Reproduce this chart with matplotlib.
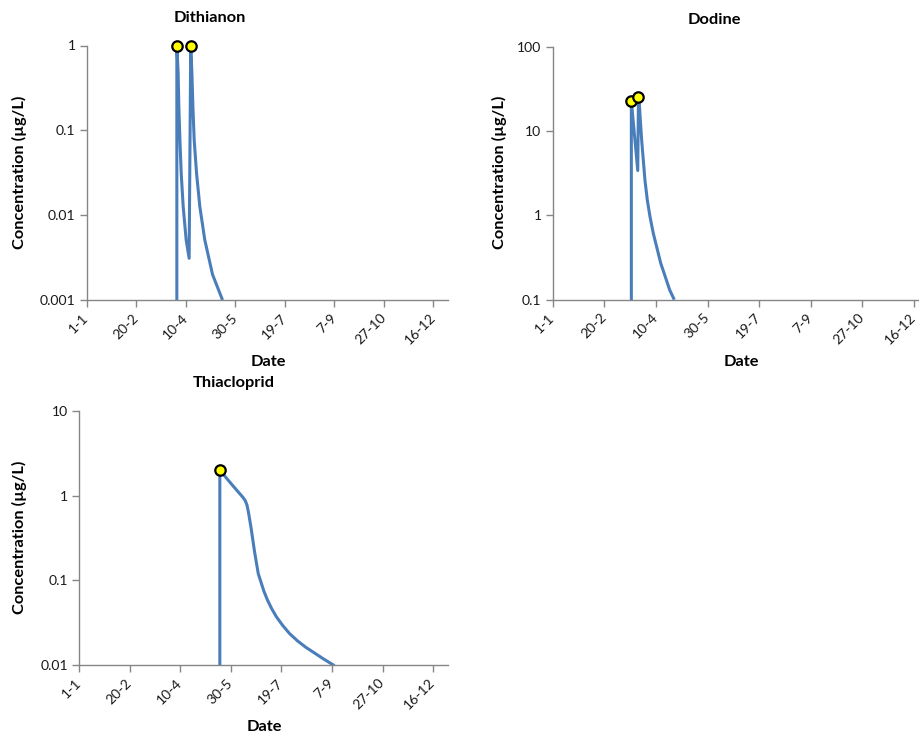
import matplotlib
matplotlib.use('Agg')
import matplotlib.pyplot as plt
from matplotlib.ticker import FixedLocator, NullLocator
import matplotlib.transforms as mtransforms

plt.rcParams['font.family'] = ['Lato', 'DejaVu Sans']

# ---- data (day of year, leap year) ----
tick_days = [1, 51, 101, 151, 201, 251, 301, 351]
tick_labels = ['1-1', '20-2', '10-4', '30-5', '19-7', '7-9', '27-10', '16-12']

dith_days = [92, 92, 93.3, 94.0, 95.1, 96.4, 98.4, 101.4, 104.4,
             106, 107.2, 108.2, 109.5, 111.9, 115.2, 120.2, 128.0, 138.1]
dith_conc = [1e-6, 1.0, 0.47, 0.19, 0.077, 0.031, 0.0126, 0.0051, 0.0031,
             1.0, 0.47, 0.19, 0.077, 0.031, 0.0126, 0.0051, 0.0020, 0.001]
dith_peak_days = [92, 106]
dith_peak_conc = [1.0, 1.0]

dod_days = [77.2, 77.2, 83.4, 84.1, 84.9, 85.9, 87.2, 88.8, 90.4, 92.7, 95.3,
            98.5, 101.8, 105.7, 109.9, 114.4, 118.8]
dod_conc = [1e-4, 22.7, 3.4, 25.1, 21.4, 13.5, 7.8, 4.5, 2.6, 1.51, 0.96,
            0.61, 0.42, 0.27, 0.19, 0.13, 0.1]
dod_peak_days = [77.2, 84.1]
dod_peak_conc = [22.7, 25.1]

thia_days = [140, 140, 151.3, 162.7, 165, 166.8, 168.4, 171, 174.3, 178, 183.5,
             187, 191, 196, 202.5, 209, 217, 225, 233.5, 243, 253.5]
thia_conc = [1e-5, 2.0, 1.38, 0.96, 0.88, 0.78, 0.63, 0.41, 0.22, 0.12, 0.075,
             0.059, 0.047, 0.037, 0.029, 0.0235, 0.0192, 0.0162, 0.0139, 0.0117, 0.0098]
thia_peak_days = [140]
thia_peak_conc = [2.0]

W, H = 920, 735
fig = plt.figure(figsize=(W / 100, H / 100), dpi=100)

LINE = '#4A7EBB'
GRID = '#868686'


def px_rect(l, r, t, b):
    return [l / W, 1 - b / H, (r - l) / W, (b - t) / H]


def panel(rect, days, conc, pdays, pconc, yticks, ylabels, title, title_xy, ylab_xy, xlab_xy):
    ax = fig.add_axes(px_rect(*rect))
    ax.plot(days, conc, color=LINE, lw=2.2, solid_joinstyle='round', solid_capstyle='butt')
    ax.plot(pdays, pconc, 'o', ms=7.5, mfc='#FFFF00', mec='black', mew=1.6,
            clip_on=False, zorder=5)
    ax.set_yscale('log')
    ax.set_ylim(yticks[0], yticks[-1])
    ax.set_xlim(1, 366)
    ax.yaxis.set_major_locator(FixedLocator(yticks))
    ax.yaxis.set_minor_locator(NullLocator())
    ax.set_yticklabels(ylabels)
    ax.set_xticks(tick_days)
    ax.set_xticklabels(tick_labels, rotation=45, ha='right', va='center',
                       rotation_mode='anchor')
    off = mtransforms.ScaledTranslation(7 / 100, 0, fig.dpi_scale_trans)
    for lab in ax.get_xticklabels():
        lab.set_transform(lab.get_transform() + off)
    for s in ['top', 'right']:
        ax.spines[s].set_visible(False)
    for s in ['left', 'bottom']:
        ax.spines[s].set_color(GRID)
        ax.spines[s].set_linewidth(1.0)
    ax.tick_params(direction='out', length=5, width=1, color=GRID,
                   labelsize=10.1, labelcolor='#1a1a1a')
    ax.tick_params(axis='x', pad=6.5)
    ax.tick_params(axis='y', pad=3)
    fig.text(title_xy[0] / W, 1 - title_xy[1] / H, title, ha='center', va='center',
             fontsize=11.8, fontweight='bold')
    fig.text(ylab_xy[0] / W, 1 - ylab_xy[1] / H, 'Concentration (µg/L)', rotation=90,
             ha='center', va='center', fontsize=11.8, fontweight='bold')
    fig.text(xlab_xy[0] / W, 1 - xlab_xy[1] / H, 'Date', ha='center', va='center',
             fontsize=11.8, fontweight='bold')
    return ax


panel((86.7, 448.3, 45.5, 300), dith_days, dith_conc, dith_peak_days, dith_peak_conc,
      [0.001, 0.01, 0.1, 1], ['0.001', '0.01', '0.1', '1'], 'Dithianon',
      (210, 18), (19, 172), (268, 362))
panel((552.7, 929.4, 46.7, 299.7), dod_days, dod_conc, dod_peak_days, dod_peak_conc,
      [0.1, 1, 10, 100], ['0.1', '1', '10', '100'], 'Dodine',
      (714, 20), (499, 172), (741, 362))
panel((79.3, 448.3, 411, 665), thia_days, thia_conc, thia_peak_days, thia_peak_conc,
      [0.01, 0.1, 1, 10], ['0.01', '0.1', '1', '10'], 'Thiacloprid',
      (234, 383), (19, 537), (264, 727))

fig.savefig('out.png', dpi=100)
